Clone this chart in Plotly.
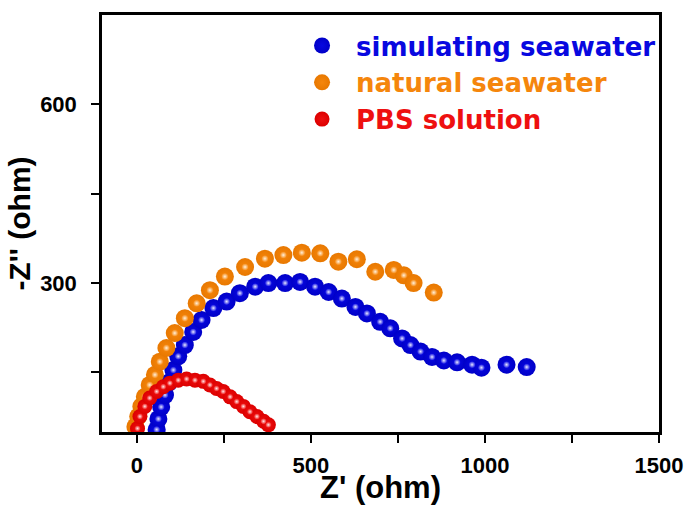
import plotly.graph_objects as go

# Data (Nyquist plots)
sim_x = [57, 62, 70, 81, 92, 105, 119, 138, 162, 186, 220, 258, 296, 340, 378, 426, 469,
         512, 551, 589, 628, 661, 699, 728, 762, 786, 815, 848, 882, 920, 963, 990, 1062, 1120]
sim_y = [54, 72, 92, 112, 133, 154, 177, 196, 218, 238, 258, 269, 283, 294, 300, 300, 302,
         294, 285, 274, 260, 249, 235, 224, 207, 196, 185, 176, 170, 167, 163, 158, 163, 159]

nat_x = [-4, 4, 13, 23, 37, 52, 66, 85, 109, 138, 172, 210, 253, 311, 368, 421, 474, 527,
         579, 632, 685, 738, 767, 795, 853]
nat_y = [59, 76, 93, 109, 129, 146, 168, 191, 216, 241, 266, 288, 311, 327, 341, 347, 351, 350,
         336, 340, 319, 322, 313, 300, 284]

pbs_x = [2, 9, 23, 37, 57, 76, 95, 119, 143, 167, 191, 210, 229, 248, 268, 287, 306, 325,
         345, 364, 378]
pbs_y = [56, 76, 93, 107, 118, 126, 132, 137, 139, 137, 135, 129, 123, 118, 109, 101, 93, 84,
         76, 68, 62]

series_names = ["simulating seawater", "natural seawater", "PBS solution"]
series_colors = ["#0808e0", "#f5860c", "#ee1010"]
edge_colors = ["#0000c8", "#e87800", "#dc0000"]
highlight_colors = ["#e8e8ff", "#fff0dc", "#ffe8e8"]
marker_sizes = [18, 18, 15]
highlight_sizes = [7, 7, 6]

x_tickvals = [0, 250, 500, 750, 1000, 1250, 1500]
x_ticktext = ["0", "", "500", "", "1000", "", "1500"]
y_tickvals = [150, 300, 450, 600]
y_ticktext = ["", "300", "", "600"]

FONT = "Liberation Sans, Arial, sans-serif"
LEGEND_FONT = "DejaVu Sans, Liberation Sans, sans-serif"

fig = go.Figure()
for xs, ys, name, col, ecol, hcol, sz, hsz in zip(
        [sim_x, nat_x, pbs_x], [sim_y, nat_y, pbs_y], series_names, series_colors,
        edge_colors, highlight_colors, marker_sizes, highlight_sizes):
    fig.add_trace(go.Scatter(
        x=xs, y=ys, mode="markers",
        name=f"<span style='color:{col}'><b>{name}</b></span>",
        marker=dict(size=sz, color=ecol, line=dict(width=0),
                    gradient=dict(type="radial", color=col)),
    ))
    fig.add_trace(go.Scatter(
        x=xs, y=ys, mode="markers", showlegend=False, hoverinfo="skip",
        marker=dict(size=hsz, color=col, line=dict(width=0),
                    gradient=dict(type="radial", color=hcol)),
    ))

axis_common = dict(
    showline=True, linecolor="black", linewidth=2.5, mirror=True,
    ticks="outside", ticklen=8, tickwidth=2, tickcolor="black",
    showgrid=False, zeroline=False, automargin=False,
    tickfont=dict(family=FONT, size=22, color="black", weight="bold"),
)

fig.update_xaxes(
    range=[-100, 1500], tickmode="array", tickvals=x_tickvals, ticktext=x_ticktext,
    ticklabelstandoff=4,
    title=dict(text="Z' (ohm)", font=dict(family=FONT, size=31, color="black", weight="bold"),
               standoff=1),
    **axis_common,
)
fig.update_yaxes(
    range=[50, 750], tickmode="array", tickvals=y_tickvals, ticktext=y_ticktext,
    ticklabelstandoff=10,
    title=dict(text="-Z'' (ohm)", font=dict(family=FONT, size=30, color="black", weight="bold"),
               standoff=1),
    **axis_common,
)

fig.update_layout(
    width=689, height=505,
    margin=dict(l=102, r=30, t=15, b=73),
    paper_bgcolor="white", plot_bgcolor="white",
    showlegend=True,
    legend=dict(x=0.334, y=0.983, xanchor="left", yanchor="top",
                bgcolor="rgba(0,0,0,0)", borderwidth=0, itemwidth=58,
                font=dict(family=LEGEND_FONT, size=26), tracegroupgap=0,
                itemsizing="trace"),
)

fig.write_html("out.html", config={"displayModeBar": False},
               post_script="document.body.style.margin='0px';document.body.style.padding='0px';")
